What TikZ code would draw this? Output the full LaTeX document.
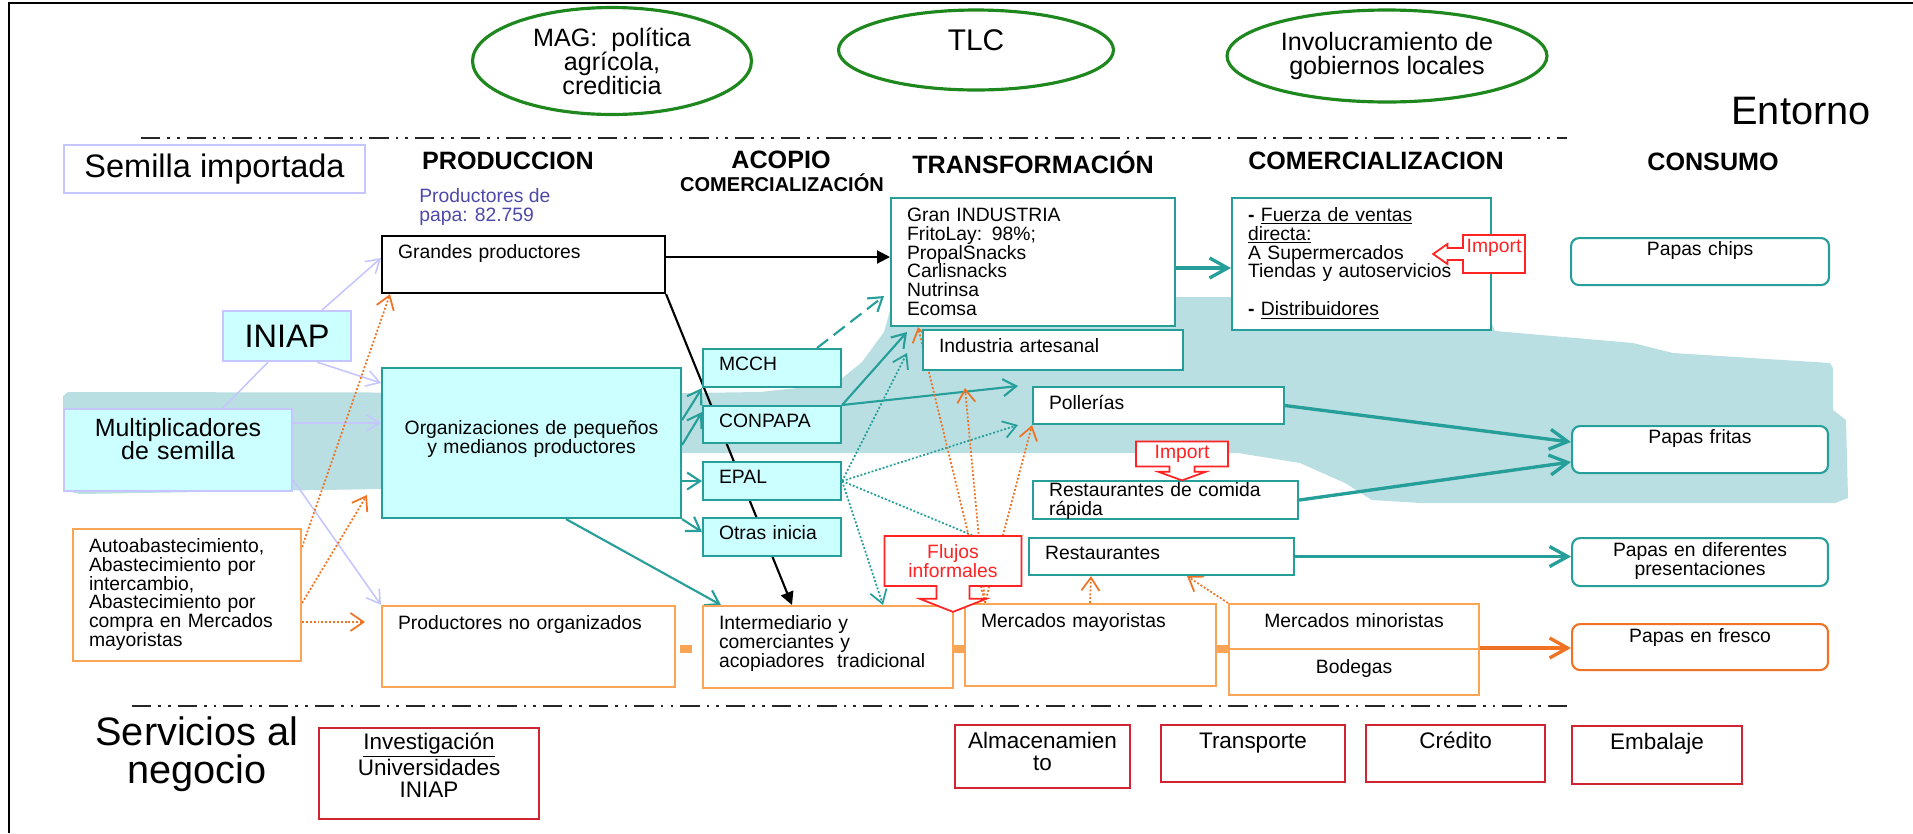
\documentclass[tikz,border=0pt]{standalone}
\usepackage{fontspec}
\setmainfont{Liberation Sans}
\usepackage{xcolor}
\usepackage{tikz}
\usetikzlibrary{arrows.meta,shapes.geometric,shapes.arrows,calc}

\definecolor{tealc}{RGB}{38,158,153}
\definecolor{cyanc}{RGB}{204,255,255}
\definecolor{bandc}{RGB}{185,223,226}
\definecolor{lavc}{RGB}{198,198,255}
\definecolor{orangeb}{RGB}{250,165,85}
\definecolor{orangea}{RGB}{240,115,35}
\definecolor{redc}{RGB}{255,35,35}
\definecolor{redb}{RGB}{210,35,50}
\definecolor{greenc}{RGB}{30,135,30}
\definecolor{purplec}{RGB}{78,72,170}

\newcommand{\fbody}{\fontsize{11}{10.8}\selectfont}
\newcommand{\fbig}{\fontsize{18.5}{20}\selectfont}
\newcommand{\fmult}{\fontsize{14.2}{13.6}\selectfont}
\newcommand{\fhead}{\fontsize{14.3}{15}\selectfont\bfseries}
\newcommand{\fsub}{\fontsize{11.4}{12}\selectfont\bfseries}
\newcommand{\fserv}{\fontsize{12.8}{12.5}\selectfont}
\newcommand{\fhuge}{\fontsize{22.6}{21.6}\selectfont}
\newcommand{\fell}{\fontsize{14.3}{13.6}\selectfont}
\newcommand{\ftlc}{\fontsize{17}{17}\selectfont}

\pgfdeclarelayer{band}
\pgfdeclarelayer{back}
\pgfsetlayers{band,back,main}

\begin{document}
\begin{tikzpicture}[x=0.02cm,y=-0.02cm,
    every node/.style={font=\fbody},
    box/.style={draw,line width=1.2pt,anchor=north west,inner xsep=0.32cm,inner ysep=0.14cm,align=left},
    tealbox/.style={box,draw=tealc,fill=white},
    cyanbox/.style={box,draw=tealc,fill=cyanc},
    lavbox/.style={box,draw=lavc,fill=cyanc},
    orbox/.style={box,draw=orangeb,fill=white},
    papabox/.style={box,fill=white,rounded corners=0.16cm,align=center},
    redbox/.style={box,draw=redb,fill=white,align=center,inner xsep=0.05cm,font=\fserv},
    ell/.style={ellipse,draw=greenc,line width=1.8pt,inner sep=0pt,align=center},
    callout/.style={arrow box,draw=redc,line width=1pt,fill=white,text=redc,inner sep=0.02cm,align=center},
    lavline/.style={draw=lavc,line width=0.9pt},
    lavarr/.style={lavline,-{Straight Barb[length=2.6mm,width=3.2mm]}},
    tealthin/.style={draw=tealc,line width=1.2pt,-{Straight Barb[length=2.6mm,width=3.4mm]}},
    tealthick/.style={draw=tealc,line width=1.9pt,-{Straight Barb[length=3.6mm,width=4mm]}},
    tealdash/.style={tealthin,dash pattern=on 8pt off 4pt},
    tealdot/.style={tealthin,line width=1pt,dash pattern=on 1.1pt off 1.1pt},
    tealdotline/.style={draw=tealc,line width=1pt,dash pattern=on 1.1pt off 1.1pt},
    ordot/.style={draw=orangea,line width=1pt,dash pattern=on 1.1pt off 1.1pt,-{Straight Barb[length=2.6mm,width=3.6mm]}},
    orthick/.style={draw=orangea,line width=1.9pt,-{Straight Barb[length=3.6mm,width=4mm]}},
    blkarr/.style={draw=black,line width=1.2pt,-{Triangle[length=2.6mm,width=2.6mm]}},
    sepline/.style={draw=black!85,line width=1.4pt,dash pattern=on 11pt off 4pt on 1.5pt off 4pt on 1.5pt off 4pt}]

    \useasboundingbox (0,0) rectangle (1913,833);
    \draw[line width=1.2pt] (9,833) -- (9,3) -- (1913,3);

    \node[ell,font=\fell,minimum width=5.58cm,minimum height=2.14cm] (mag) at (612,61) {MAG:\ \ política\\agrícola,\\crediticia};
    \node[ell,font=\ftlc,minimum width=5.5cm,minimum height=1.6cm,text height=0.43cm,text depth=0.4cm] (tlc) at (976,50) {TLC};
    \node[ell,font=\fell,minimum width=6.4cm,minimum height=1.84cm] (gob) at (1387,56) {Involucramiento de\\gobiernos locales};
    \node[font=\fhuge] (ent) at (1801,111) {Entorno};
    \draw[sepline] (141,138) -- (1567,138);

    \node[box,draw=lavc,fill=white,align=center,font=\fbig,inner sep=0pt,minimum width=6.02cm,minimum height=0.96cm] (sem) at (63,144) {Semilla importada};
    \node[font=\fhead] (hprod) at (508,161) {PRODUCCION};
    \node[font=\fhead] (hacop) at (781,160) {ACOPIO};
    \node[font=\fsub] (hacom) at (782,183) {COMERCIALIZACIÓN};
    \node[font=\fhead] (htrans) at (1033,162) {TRANSFORMACIÓN};
    \node[font=\fhead] (hcom) at (1376,161) {COMERCIALIZACION};
    \node[font=\fhead] (hcons) at (1713,162) {CONSUMO};
    \node[text=purplec,anchor=north west,align=left,inner sep=0pt] (nprod) at (419,188) {Productores de\\papa: 82.759};

    \node[box,fill=white,text width=5.02cm,text height=0.3cm,text depth=0.56cm] (gp) at (381,235) {Grandes productores};
    \node[lavbox,align=center,font=\fbig,inner sep=0pt,minimum width=2.56cm,minimum height=1.0cm] (iniap) at (222,310) {INIAP};
    \node[lavbox,align=center,font=\fmult,text width=3.92cm,text height=0.4cm,text depth=0.96cm] (mult) at (63,408) {Multiplicadores\\de semilla};
    \node[cyanbox,align=center,text width=5.34cm,text height=1.18cm,text depth=1.54cm] (org) at (381,367) {Organizaciones de pequeños\\y medianos productores};
    \node[orbox,text width=3.92cm,text height=0.32cm,text depth=2.04cm] (auto) at (72,528) {Autoabastecimiento,\\Abastecimiento por\\intercambio,\\Abastecimiento por\\compra en Mercados\\mayoristas};
    \node[orbox,text width=5.22cm,text height=0.32cm,text depth=1.02cm] (pno) at (381,605) {Productores no organizados};

    \node[cyanbox,text width=2.12cm,text height=0.28cm,text depth=0.2cm] (mcch) at (702,348) {MCCH};
    \node[cyanbox,text width=2.12cm,text height=0.28cm,text depth=0.18cm] (conpapa) at (702,405) {CONPAPA};
    \node[cyanbox,text width=2.12cm,text height=0.28cm,text depth=0.2cm] (epal) at (702,461) {EPAL};
    \node[cyanbox,text width=2.12cm,text height=0.28cm,text depth=0.2cm] (otras) at (702,517) {Otras inicia};
    \node[orbox,text width=4.36cm,text height=0.32cm,text depth=1.04cm] (inter) at (702,605) {Intermediario y\\comerciantes y\\acopiadores\ \ tradicional};

    \node[tealbox,text width=5.04cm,text height=0.32cm,text depth=1.96cm] (gran) at (890,197) {Gran INDUSTRIA\\FritoLay: 98\%;\\PropalSnacks\\Carlisnacks\\Nutrinsa\\Ecomsa};
    \node[tealbox,text width=4.56cm,text height=0.3cm,text depth=0.22cm] (ind) at (922,329) {Industria artesanal};
    \node[tealbox,text width=4.38cm,text height=0.3cm,text depth=0.16cm] (poll) at (1032,386) {Pollerías};
    \node[tealbox,text width=4.66cm,text height=0.16cm,text depth=0.32cm] (rcr) at (1032,480) {Restaurantes de comida\\rápida};
    \node[tealbox,text width=4.66cm,text height=0.28cm,text depth=0.18cm] (rest) at (1028,537) {Restaurantes};
    \node[orbox,text width=4.38cm,text height=0.32cm,text depth=1.04cm] (mmay) at (964,603) {Mercados mayoristas};
    \node[orbox,align=center,text width=4.36cm,text height=0.32cm,text depth=0.3cm] (mmin) at (1228,603) {Mercados minoristas};
    \node[orbox,align=center,text width=4.36cm,text height=0.34cm,text depth=0.3cm] (bod) at (1228,648) {Bodegas};

    \node[tealbox,text width=4.54cm,text height=0.32cm,text depth=2.04cm] (com) at (1231,197) {\textbf{-} \underline{Fuerza de ventas}\\\underline{directa:}\\A Supermercados\\Tiendas y autoservicios\\[10.8pt]\textbf{-} \underline{Distribuidores}};

    \node[papabox,draw=tealc,text width=4.52cm,text height=0.2cm,text depth=0.46cm] (pchips) at (1570,237) {Papas chips};
    \node[papabox,draw=tealc,text width=4.48cm,text height=0.2cm,text depth=0.46cm] (pfritas) at (1571,425) {Papas fritas};
    \node[papabox,draw=tealc,text width=4.48cm,text height=0.22cm,text depth=0.46cm] (pdif) at (1571,537) {Papas en diferentes\\presentaciones};
    \node[papabox,draw=orangea,text width=4.48cm,text height=0.22cm,text depth=0.42cm] (pfresco) at (1571,623) {Papas en fresco};

    \fill[orangeb] (680,645) rectangle (692,653);
    \fill[orangeb] (952,645) rectangle (964,653);
    \fill[orangeb] (1215,645) rectangle (1228,653);

    \node[callout,minimum width=1.24cm,minimum height=0.76cm,arrow box arrows={west:0.58cm},arrow box shaft width=0.24cm,arrow box head extend=0.08cm,arrow box tip angle=70,text height=0.3cm,text depth=0.36cm] (imp1) at (1494,254) {Import};
    \node[callout,minimum width=1.84cm,minimum height=0.5cm,arrow box arrows={south:0.26cm},arrow box shaft width=0.5cm,arrow box head extend=0.22cm,arrow box tip angle=140] (imp2) at (1182,454) {Import};
    \node[callout,minimum width=2.74cm,minimum height=1.0cm,arrow box arrows={south:0.5cm},arrow box shaft width=0.66cm,arrow box head extend=0.34cm,arrow box tip angle=137] (flujos) at (953,561) {Flujos\\informales};

    \draw[sepline] (132,706) -- (1568,706);
    \node[font=\fhuge,align=center] (serv) at (197,754) {Servicios al\\negocio};
    \node[redbox,text width=4.3cm,text height=0.28cm,text depth=1.26cm] (inv) at (318,727) {\underline{Investigación}\\Universidades\\INIAP};
    \node[redbox,text width=3.4cm,text height=0.32cm,text depth=0.66cm] (alm) at (954,724) {Almacenamien\\to};
    \node[redbox,text width=3.58cm,text height=0.32cm,text depth=0.54cm] (tra) at (1160,724) {Transporte};
    \node[redbox,text width=3.48cm,text height=0.32cm,text depth=0.54cm] (cre) at (1365,724) {Crédito};
    \node[redbox,text width=3.3cm,text height=0.32cm,text depth=0.56cm] (emb) at (1571,725) {Embalaje};

    \coordinate (c1) at (907,332);
    \coordinate (c2) at (1018,386);
    \coordinate (c3) at (884,296);
    \coordinate (c4) at (907,353);
    \coordinate (c5) at (1018,425);
    \coordinate (c6) at (965,388);
    \coordinate (o1) at (367,495);
    \coordinate (o2) at (365,622);

    \begin{pgfonlayer}{band}
    \fill[bandc] (63,396) -- (68,392) -- (690,393) -- (760,392) -- (835,384) -- (862,362) -- (884,332) -- (893,300) -- (1176,297) -- (1480,297) -- (1495,331) -- (1633,343) -- (1673,353) -- (1830,363) -- (1833,368) -- (1833,410) -- (1846,420) -- (1848,498) -- (1835,503) -- (1420,503) -- (1372,500) -- (1345,483) -- (1300,463) -- (1238,453) -- (680,453) -- (600,480) -- (381,489) -- (80,494) -- (63,490) -- cycle;
    \end{pgfonlayer}

    \begin{pgfonlayer}{back}
    \draw[lavline] (mult.north -| 223,0) -- (iniap.south -| 268,0);
    \draw[lavarr] (iniap.north -| 322,0) -- (gp.west |- 0,258);
    \draw[lavarr] (iniap.south -| 317,0) -- (org.west |- 0,383);
    \draw[lavarr] (mult.east |- 0,423) -- (org.west |- 0,423);
    \draw[lavarr] (mult.east |- 0,480) -- (pno.north west);
    \draw[ordot] (auto.east |- 0,547) -- (gp.south -| 390,0);
    \draw[ordot] (auto.east |- 0,603) -- (o1);
    \draw[ordot] (auto.east |- 0,622) -- (o2);
    \draw[blkarr] (gp.east |- 0,257) -- (gran.west |- 0,257);
    \draw[blkarr] (gp.south east) -- (inter.north -| 792,0);
    \draw[tealthin] (org.east |- 0,420) -- (mcch.south west);
    \draw[tealthin] (org.east |- 0,445) -- (conpapa.west |- 0,412);
    \draw[tealthin] (org.east |- epal.west) -- (epal.west);
    \draw[tealthin] (org.south east) -- (otras.west |- 0,532);
    \draw[tealthin] (org.south -| 566,0) -- (inter.north -| 721,0);
    \draw[tealthin] (conpapa.north east) -- (c1);
    \draw[tealthin] (conpapa.north east) -- (c2);
    \draw[tealdash] (mcch.north -| 817,0) -- (c3);
    \draw[tealdot] (epal.east) -- (c4);
    \draw[tealdot] (epal.east) -- (c5);
    \draw[tealdotline] (epal.east) -- (flujos.north -| 972,0);
    \draw[tealdot] (epal.east) -- (inter.north -| 883,0);
    \draw[ordot] (mmay.north -| 985,0) -- (gran.south -| 918,0);
    \draw[ordot] (mmay.north -| 985,0) -- (c6);
    \draw[ordot] (mmay.north -| 985,0) -- (poll.south west);
    \draw[ordot] (mmay.north -| 1090,0) -- (rest.south -| 1091,0);
    \draw[ordot] (mmin.north west) -- (rest.south -| 1187,0);
    \draw[tealthick] (gran.east |- 0,268) -- (com.west |- 0,268);
    \draw[tealthick] (poll.east) -- (pfritas.west |- 0,442);
    \draw[tealthick] (rcr.east) -- (pfritas.west |- 0,462);
    \draw[tealthick] (rest.east) -- (pdif.west |- rest.east);
    \draw[orthick] (bod.north east) -- (pfresco.west |- bod.north east);
    \end{pgfonlayer}
\end{tikzpicture}
\end{document}
